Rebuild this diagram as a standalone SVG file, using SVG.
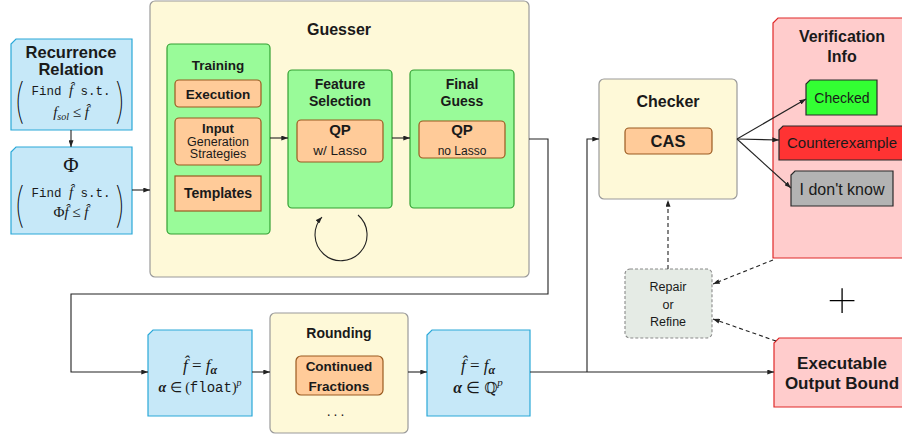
<svg xmlns="http://www.w3.org/2000/svg" width="902" height="437" viewBox="0 0 902 437">
<defs>
<style>
.t{font-family:"Liberation Sans",Arial,sans-serif;text-anchor:middle;fill:#1a1a1a}
.bd{font-weight:bold}
.mono{font-family:"Liberation Mono","Courier New",monospace;font-style:normal}
.it{font-family:"Liberation Serif","Times New Roman",serif;font-style:italic}
.rm{font-family:"Liberation Serif","Times New Roman",serif;font-style:normal}
.par{font-family:Inter,"DejaVu Sans",sans-serif;font-weight:100;fill:#000}
.blue{fill:#c6e8f8;stroke:#2aa8d8;stroke-width:1.2}
.yel{fill:#fef9d8;stroke:#9a9a9a;stroke-width:1.2}
.grn{fill:#99fb99;stroke:#33a033;stroke-width:1.2}
.org{fill:#ffcb99;stroke:#9a5a20;stroke-width:1.2}
.pink{fill:#ffcccc;stroke:#e02828;stroke-width:1.2}
.ln{fill:none;stroke:#222;stroke-width:1.1}
.dash{fill:none;stroke:#222;stroke-width:1.1;stroke-dasharray:4 3}
</style>
<marker id="ah" viewBox="0 0 8 6" refX="8" refY="3" markerWidth="7" markerHeight="5" markerUnits="userSpaceOnUse" orient="auto">
<path d="M0,0 L8,3 L0,6 Z" fill="#222"/>
</marker>
</defs>

<g id="recurrence">
<path class="blue" d="M16 39 H132 V130 H11 V44 Z"/>
<text class="t bd" x="71" y="58" font-size="16.5">Recurrence</text>
<text class="t bd" x="71" y="75" font-size="16.5">Relation</text>
<text class="par" x="13" y="117" font-size="47" transform="translate(13 0) scale(0.85 1) translate(-13 0)">(</text>
<text class="par" x="114" y="117" font-size="47" transform="translate(114 0) scale(0.85 1) translate(-114 0)">)</text>
<text class="t" x="71" y="95" font-size="12.5"><tspan class="mono">Find </tspan><tspan class="it" font-size="15">f̂</tspan><tspan class="mono"> s.t.</tspan></text>
<text class="t" x="71" y="117" font-size="15"><tspan class="it">f</tspan><tspan class="it" font-size="10" dy="3">sol</tspan><tspan class="rm" dy="-3"> ≤ </tspan><tspan class="it">f̂</tspan></text>
</g>

<g id="phi">
<path class="blue" d="M16 147 H132 V234 H11 V152 Z"/>
<text class="t rm" x="71" y="172" font-size="21">Φ</text>
<text class="par" x="13" y="221" font-size="47" transform="translate(13 0) scale(0.85 1) translate(-13 0)">(</text>
<text class="par" x="114" y="221" font-size="47" transform="translate(114 0) scale(0.85 1) translate(-114 0)">)</text>
<text class="t" x="71" y="197" font-size="12.5"><tspan class="mono">Find </tspan><tspan class="it" font-size="15">f̂</tspan><tspan class="mono"> s.t.</tspan></text>
<text class="t" x="71" y="217" font-size="15"><tspan class="rm">Φ</tspan><tspan class="it">f̂</tspan><tspan class="rm"> ≤ </tspan><tspan class="it">f̂</tspan></text>
</g>

<g id="guesser">
<rect class="yel" x="150" y="1" width="379" height="276" rx="5"/>
<text class="t bd" x="339" y="35" font-size="16">Guesser</text>
</g>

<g id="training">
<rect class="grn" x="167" y="44" width="103" height="190" rx="4"/>
<text class="t bd" x="218" y="70" font-size="13.5">Training</text>
<rect class="org" x="175" y="80" width="86" height="27" rx="4"/>
<text class="t bd" x="218" y="99" font-size="13.5">Execution</text>
<rect class="org" x="175" y="118" width="86" height="47" rx="4"/>
<text class="t bd" x="218" y="133" font-size="13">Input</text>
<text class="t" x="218" y="145.5" font-size="12.5">Generation</text>
<text class="t" x="218" y="158" font-size="12.5">Strategies</text>
<rect class="org" x="175" y="176" width="86" height="35"/>
<text class="t bd" x="218" y="198" font-size="14">Templates</text>
</g>

<g id="feature-selection">
<rect class="grn" x="288" y="70" width="104" height="138" rx="4"/>
<text class="t bd" x="340" y="89" font-size="14">Feature</text>
<text class="t bd" x="340" y="106" font-size="14">Selection</text>
<rect class="org" x="297" y="120" width="86" height="42" rx="4"/>
<text class="t bd" x="340" y="135" font-size="15">QP</text>
<text class="t" x="340" y="155" font-size="13.5">w/ Lasso</text>
</g>

<g id="final-guess">
<rect class="grn" x="410" y="70" width="104" height="138" rx="4"/>
<text class="t bd" x="462" y="89" font-size="14">Final</text>
<text class="t bd" x="462" y="106" font-size="14">Guess</text>
<rect class="org" x="419" y="121" width="86" height="37" rx="4"/>
<text class="t bd" x="462" y="135" font-size="15">QP</text>
<text class="t" x="462" y="155" font-size="12">no Lasso</text>
</g>

<g id="float-box">
<path class="blue" d="M153 330 H252 V416 H148 V335 Z"/>
<text class="t" x="200" y="371" font-size="17"><tspan class="it">f̂</tspan><tspan class="rm"> = </tspan><tspan class="it">f</tspan><tspan class="it" font-weight="bold" font-size="12" dy="3">α</tspan></text>
<text class="t" x="200" y="392" font-size="14"><tspan class="it" font-weight="bold">α</tspan><tspan class="rm"> ∈ (</tspan><tspan class="mono">float</tspan><tspan class="rm">)</tspan><tspan class="it" font-size="10" dy="-6">p</tspan></text>
</g>

<g id="rounding">
<rect class="yel" x="270" y="313" width="138" height="120" rx="5"/>
<text class="t bd" x="339" y="338" font-size="14">Rounding</text>
<rect class="org" x="296" y="356" width="87" height="39" rx="5"/>
<text class="t bd" x="339" y="371" font-size="13.5">Continued</text>
<text class="t bd" x="339" y="391" font-size="13.5">Fractions</text>
<text class="t" x="337" y="416" font-size="14" letter-spacing="3">...</text>
</g>

<g id="rational-box">
<path class="blue" d="M432 330 H530 V416 H427 V335 Z"/>
<text class="t" x="478" y="371" font-size="17"><tspan class="it">f̂</tspan><tspan class="rm"> = </tspan><tspan class="it">f</tspan><tspan class="it" font-weight="bold" font-size="12" dy="3">α</tspan></text>
<text class="t" x="478" y="393" font-size="16"><tspan class="it" font-weight="bold">α</tspan><tspan class="rm"> ∈ </tspan><tspan font-family="DejaVu Serif,serif" font-size="15">ℚ</tspan><tspan class="it" font-size="11" dy="-7">p</tspan></text>
</g>

<g id="checker">
<rect class="yel" x="599" y="79" width="138" height="120" rx="5"/>
<text class="t bd" x="668" y="107" font-size="16">Checker</text>
<rect class="org" x="625" y="128" width="87" height="26" rx="4"/>
<text class="t bd" x="668" y="147" font-size="16.5">CAS</text>
</g>

<g id="verification-info">
<path class="pink" d="M778 18 H906 V258 H773 V23 Z"/>
<text class="t bd" x="842" y="42" font-size="16">Verification</text>
<text class="t bd" x="842" y="62" font-size="16">Info</text>
</g>

<g id="checked">
<path d="M810 80 H877 V115 H806 V84 Z" fill="#33ff33" stroke="#2a2a2a" stroke-width="1.2"/>
<text class="t" x="842" y="103" font-size="14">Checked</text>
</g>

<g id="counterexample">
<path d="M783 126 H906 V160 H779 V130 Z" fill="#ff3333" stroke="#2a2a2a" stroke-width="1.2"/>
<text class="t" x="842" y="148" font-size="15">Counterexample</text>
</g>

<g id="dont-know">
<path d="M795 171 H893 V206 H791 V175 Z" fill="#b3b3b3" stroke="#2a2a2a" stroke-width="1.2"/>
<text class="t" x="842" y="195" font-size="16">I don't know</text>
</g>

<g id="repair">
<rect x="625" y="269" width="87" height="69" rx="5" fill="#e5ebe5" stroke="#8a8a8a" stroke-width="1.1" stroke-dasharray="3 2"/>
<text class="t" x="668" y="291" font-size="12.5">Repair</text>
<text class="t" x="668" y="309" font-size="12.5">or</text>
<text class="t" x="668" y="326" font-size="12.5">Refine</text>
</g>

<g id="plus">
<text class="par" x="842" y="318" font-size="60" text-anchor="middle">+</text>
</g>

<g id="executable">
<path class="pink" d="M779 338 H906 V407 H774 V343 Z"/>
<text class="t bd" x="842" y="369" font-size="17">Executable</text>
<text class="t bd" x="842" y="389" font-size="17">Output Bound</text>
</g>

<g id="connectors">
<path class="ln" d="M71 130 V147" marker-end="url(#ah)"/>
<path class="ln" d="M132 190 H150" marker-end="url(#ah)"/>
<path class="ln" d="M270 138 H288" marker-end="url(#ah)"/>
<path class="ln" d="M392 138 H410" marker-end="url(#ah)"/>
<path class="ln" stroke-width="1.5" d="M358 215 A26 26 0 1 1 322 217" marker-end="url(#ah)"/>
<path class="ln" d="M529 139 H548 V294 H71 V372 H148" marker-end="url(#ah)"/>
<path class="ln" d="M252 372 H270" marker-end="url(#ah)"/>
<path class="ln" d="M408 372 H427" marker-end="url(#ah)"/>
<path class="ln" d="M530 372 H774" marker-end="url(#ah)"/>
<path class="ln" d="M587 372 V139 H599" marker-end="url(#ah)"/>
<path class="ln" d="M737 139 L806 99" marker-end="url(#ah)"/>
<path class="ln" d="M737 139 L779 140" marker-end="url(#ah)"/>
<path class="ln" d="M737 139 L791 188" marker-end="url(#ah)"/>
<path class="dash" d="M668 269 V200" marker-end="url(#ah)"/>
<path class="dash" d="M773 260 L713 284" marker-end="url(#ah)"/>
<path class="dash" d="M776 341 L713 319" marker-end="url(#ah)"/>
</g>
</svg>
